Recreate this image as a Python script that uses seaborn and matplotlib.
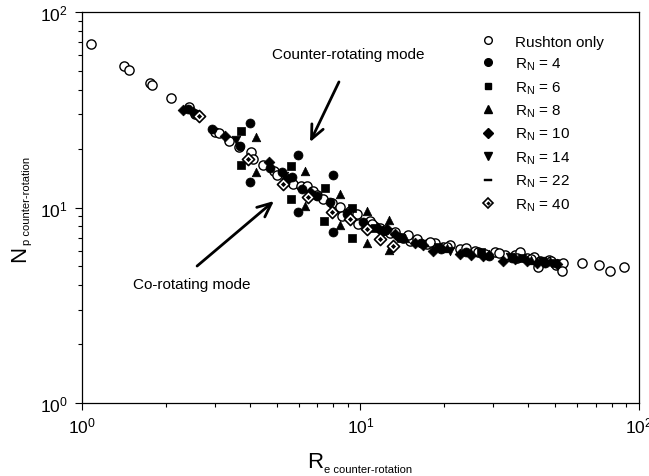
import matplotlib
matplotlib.use("Agg")
import matplotlib.pyplot as plt
from matplotlib.lines import Line2D
from matplotlib.legend_handler import HandlerTuple
from matplotlib.path import Path
from matplotlib.ticker import NullFormatter
import seaborn as sns

sns.set_theme(style="white")
plt.rcParams["font.family"] = ["Liberation Sans", "DejaVu Sans"]
plt.rcParams["mathtext.fontset"] = "custom"
plt.rcParams["mathtext.rm"] = "Liberation Sans"
plt.rcParams["mathtext.it"] = "Liberation Sans:italic"
plt.rcParams["mathtext.bf"] = "Liberation Sans:bold"

# ---------------- data: Reynolds number vs power number ----------------
re_rushton = [1.08, 1.415, 1.475, 1.755, 1.78, 2.09, 2.42, 2.55, 3.0, 3.1, 3.37, 3.66,
              4.05, 4.11, 4.47, 4.9, 5.01, 5.4, 5.72, 6.1, 6.43, 6.75, 7.0, 7.33, 7.9,
              8.44, 8.58, 9.2, 9.71, 9.79, 10.8, 11.2, 11.75, 12.8, 13.3, 14.2, 15.06,
              16.0, 17.33, 18.5, 19.8, 21.0, 22.8, 24.0, 25.8, 28.0, 30.4, 33.0, 35.9,
              37.5, 39.6, 42.0, 44.1, 43.5, 47.5, 50.5, 53.4, 52.8, 62.3, 72.0, 78.7, 88.3,
              11.0, 12.2, 14.8, 17.8, 20.5, 26.5, 31.5, 36.5, 41.0, 48.5]
np_rushton = [68.6, 53.1, 50.7, 43.2, 42.3, 36.2, 32.5, 30.2, 24.3, 24.0, 21.9, 20.4,
              19.2, 17.7, 16.5, 15.4, 14.7, 13.6, 13.2, 12.9, 12.9, 12.1, 11.6, 11.1, 10.6,
              10.1, 9.1, 9.6, 9.26, 8.24, 8.5, 8.0, 7.9, 7.4, 7.5, 7.0, 6.74,
              6.9, 6.5, 6.6, 6.28, 6.4, 6.13, 6.2, 6.0, 5.8, 5.9, 5.75, 5.7,
              5.9, 5.5, 5.6, 5.33, 4.96, 5.4, 5.1, 5.2, 4.73, 5.2, 5.08, 4.75, 4.98,
              8.2, 7.7, 7.2, 6.7, 6.3, 5.95, 5.85, 5.55, 5.45, 5.3]

re_rn4 = [4.01, 4.01, 5.97, 5.97, 7.96, 7.96, 2.40, 2.93, 3.69, 4.73, 5.22, 5.67,
          6.17, 6.98, 7.77, 8.94, 10.2, 12.0, 16.5, 24.0, 35.0, 46.0, 13.8, 19.5, 29.0]
np_rn4 = [27.0, 13.5, 18.6, 9.48, 14.7, 7.49, 31.9, 25.2, 20.6, 15.9, 15.2, 14.3,
          12.4, 11.5, 10.7, 9.26, 8.4, 7.6, 6.6, 5.9, 5.5, 5.2, 7.1, 6.1, 5.65]

re_rn6 = [3.72, 3.72, 5.63, 5.63, 7.46, 7.40, 9.32, 9.32, 11.3, 14.0, 19.0, 27.0, 38.0, 50.0]
np_rn6 = [24.6, 16.5, 16.3, 11.1, 12.6, 8.53, 9.94, 6.98, 7.9, 7.0, 6.3, 5.9, 5.5, 5.2]

re_rn8 = [4.22, 4.22, 6.32, 6.32, 8.44, 8.44, 10.55, 10.55, 12.65, 12.65,
          14.5, 20.5, 29.0, 41.0, 48.0]
np_rn8 = [22.9, 15.2, 15.4, 10.2, 11.7, 8.14, 9.6, 6.58, 8.65, 6.06,
          7.0, 6.2, 5.8, 5.4, 5.3]

re_rn10 = [2.31, 2.50, 3.26, 4.69, 5.5, 6.6, 12.45, 13.3, 15.7, 18.2, 22.8, 27.5,
           32.5, 39.6, 46.0, 50.8, 11.6, 16.8, 25.0, 36.0, 43.0]
np_rn10 = [31.7, 30.8, 23.2, 17.1, 14.0, 12.0, 7.76, 7.3, 6.6, 6.0, 5.8, 5.65,
           5.33, 5.33, 5.25, 5.14, 7.9, 6.4, 5.75, 5.45, 5.2]

re_rn14 = [3.57, 5.3, 9.0, 12.2, 21.0, 34.4, 45.0]
np_rn14 = [22.2, 14.5, 9.4, 7.6, 6.0, 5.6, 5.3]

re_rn22 = [2.6, 5.5, 11.0, 20.0, 45.0]
np_rn22 = [30.5, 13.8, 8.0, 6.2, 5.3]

re_rn40 = [2.63, 3.94, 5.27, 6.5, 7.9, 9.17, 10.55, 11.75, 13.08]
np_rn40 = [29.4, 17.7, 13.2, 11.3, 9.48, 8.74, 7.76, 6.90, 6.35]

legend_labels = ["Rushton only", r"$\mathregular{R_N}$ = 4", r"$\mathregular{R_N}$ = 6",
                 r"$\mathregular{R_N}$ = 8", r"$\mathregular{R_N}$ = 10",
                 r"$\mathregular{R_N}$ = 14", r"$\mathregular{R_N}$ = 22",
                 r"$\mathregular{R_N}$ = 40"]

# short horizontal bar marker
bar_marker = Path([(-1, -0.32), (1, -0.32), (1, 0.32), (-1, 0.32), (-1, -0.32)],
                  [Path.MOVETO, Path.LINETO, Path.LINETO, Path.LINETO, Path.CLOSEPOLY])

fig = plt.figure(figsize=(6.49, 4.77), dpi=100)
ax = fig.add_axes([0.1263, 0.1530, 0.8583, 0.8197])


def points(x, y, **kw):
    sns.scatterplot(x=x, y=y, ax=ax, legend=False, **kw)


points(re_rushton, np_rushton, marker="o", s=44, color="white", edgecolor="black",
       linewidth=1.0, zorder=3)
points(re_rn4, np_rn4, marker="o", s=42, color="black", edgecolor="black", linewidth=0.5, zorder=3)
points(re_rn6, np_rn6, marker="s", s=32, color="black", edgecolor="black", linewidth=0.5, zorder=3)
points(re_rn8, np_rn8, marker="^", s=38, color="black", edgecolor="black", linewidth=0.5, zorder=3)
points(re_rn10, np_rn10, marker="D", s=30, color="black", edgecolor="black", linewidth=0.5, zorder=3)
points(re_rn14, np_rn14, marker="v", s=38, color="black", edgecolor="black", linewidth=0.5, zorder=3)
points(re_rn22, np_rn22, marker=bar_marker, s=40, color="black", edgecolor="black",
       linewidth=0.3, zorder=3)
points(re_rn40, np_rn40, marker="D", s=38, color="white", edgecolor="black", linewidth=1.2, zorder=4)
points(re_rn40, np_rn40, marker="D", s=7, color="black", edgecolor="black", linewidth=0, zorder=5)

ax.set_xscale("log")
ax.set_yscale("log")
ax.set_xlim(1, 100)
ax.set_ylim(1, 100)
ax.set_xlabel("")
ax.set_ylabel("")
ax.grid(False)
for sp in ax.spines.values():
    sp.set_color("black")
    sp.set_linewidth(0.9)
ax.tick_params(which="major", direction="out", length=5, width=0.8, color="black",
               bottom=True, left=True, top=False, right=False, labelsize=12.5, pad=4,
               labelcolor="black")
ax.tick_params(axis="y", which="major", pad=5)
ax.tick_params(which="minor", direction="out", length=2.8, width=0.8, color="black",
               bottom=True, left=True, top=False, right=False)
ax.xaxis.set_minor_formatter(NullFormatter())
ax.yaxis.set_minor_formatter(NullFormatter())

# axis titles with small subscripts
rx = ax.text(0.405, -0.1637, "R", transform=ax.transAxes, fontsize=16,
             ha="left", va="baseline", color="black")
ax.annotate("e counter-rotation", xy=(1, 0), xycoords=rx, xytext=(0.5, 0),
            textcoords="offset points", fontsize=8, ha="left", va="baseline", color="black")
ny = ax.text(-0.1023, 0.363, "N", transform=ax.transAxes, fontsize=16, rotation=90,
             rotation_mode="anchor", ha="left", va="baseline", color="black")
ax.annotate("p counter-rotation", xy=(1, 1), xycoords=ny, xytext=(0, 0.5),
            textcoords="offset points", fontsize=8, rotation=90, rotation_mode="anchor",
            ha="left", va="baseline", color="black")

# mode annotations
arrow_kw = dict(arrowstyle="->,head_length=1.0,head_width=0.45", lw=2.0, color="black",
                shrinkA=0, shrinkB=0, mutation_scale=10)
ax.annotate("", xy=(6.59, 21.6), xytext=(8.37, 43.9), arrowprops=arrow_kw)
ax.annotate("", xy=(4.89, 10.8), xytext=(2.59, 5.02), arrowprops=arrow_kw)
ax.text(9.05, 61.0, "Counter-rotating mode", fontsize=11, ha="center", va="center",
        color="black")
ax.text(2.48, 4.06, "Co-rotating mode", fontsize=11, ha="center", va="center",
        color="black")

# legend
h_open = Line2D([], [], ls="none", marker="o", ms=5.5, mfc="white", mec="black", mew=1.0)
h_c = Line2D([], [], ls="none", marker="o", ms=5.5, mfc="black", mec="black")
h_s = Line2D([], [], ls="none", marker="s", ms=5, mfc="black", mec="black")
h_t = Line2D([], [], ls="none", marker="^", ms=5.5, mfc="black", mec="black")
h_d = Line2D([], [], ls="none", marker="D", ms=5, mfc="black", mec="black")
h_v = Line2D([], [], ls="none", marker="v", ms=5.5, mfc="black", mec="black")
h_b = Line2D([], [], ls="none", marker=bar_marker, ms=6, mfc="black", mec="black", mew=0.3)
h_h1 = Line2D([], [], ls="none", marker="D", ms=5.5, mfc="white", mec="black", mew=1.2)
h_h2 = Line2D([], [], ls="none", marker="D", ms=2.2, mfc="black", mec="black", mew=0)
leg = ax.legend([h_open, h_c, h_s, h_t, h_d, h_v, h_b, (h_h1, h_h2)], legend_labels,
                handler_map={tuple: HandlerTuple(ndivide=1)},
                loc="upper left", bbox_to_anchor=(0.712, 0.942), frameon=False,
                fontsize=11, borderpad=0, borderaxespad=0, handlelength=1.2,
                handletextpad=1.16, labelspacing=0.46)
for t in leg.get_texts():
    t.set_color("black")

fig.savefig("out.png", dpi=100)
